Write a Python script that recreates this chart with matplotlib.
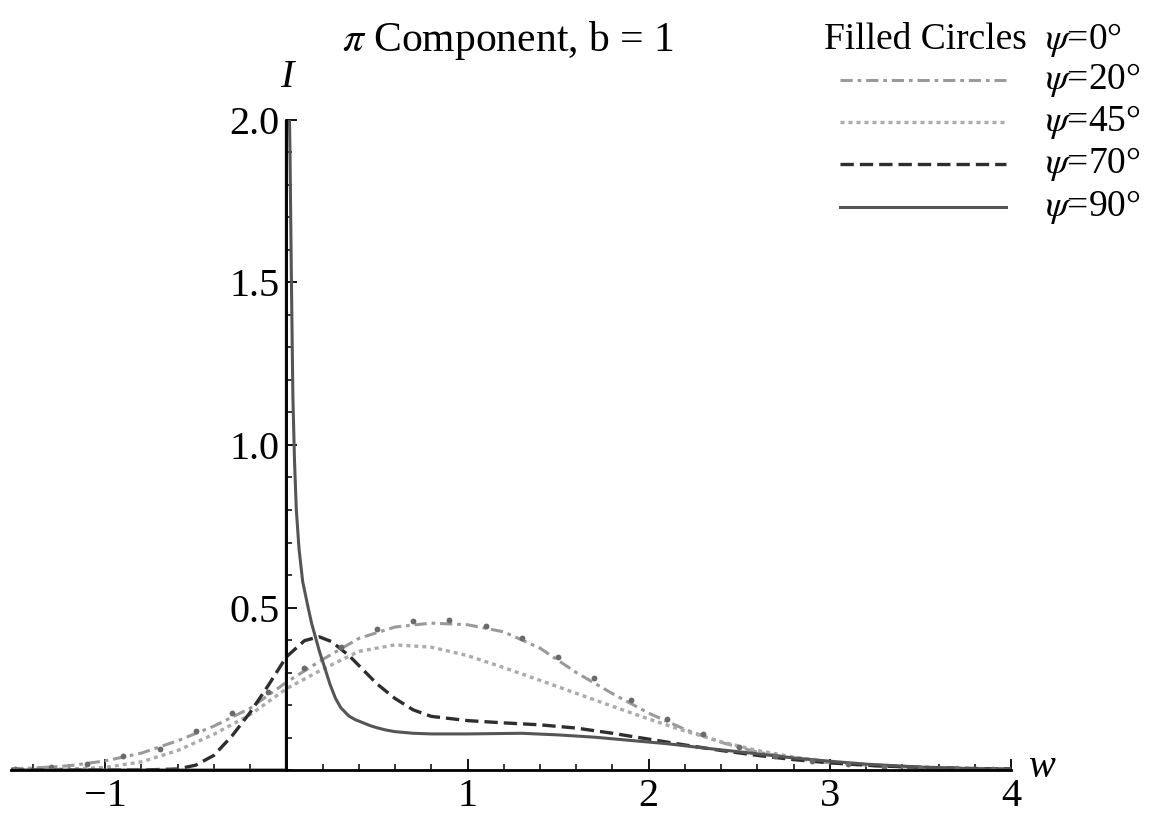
import matplotlib.pyplot as plt
from matplotlib.ticker import MultipleLocator, FixedLocator
from matplotlib.lines import Line2D

plt.rcParams['font.family'] = ['Liberation Serif', 'DejaVu Serif']
plt.rcParams['mathtext.fontset'] = 'stix'

# psi = 0 deg, filled circles
w0 = [-1.5, -1.3, -1.1, -0.9, -0.7, -0.5, -0.3, -0.1, 0.1, 0.3, 0.5, 0.7, 0.9, 1.1,
      1.3, 1.5, 1.7, 1.9, 2.1, 2.3, 2.5, 2.7, 2.9, 3.1, 3.3, 3.5, 3.7, 3.9]
I0 = [0.004, 0.008, 0.02, 0.043, 0.066, 0.121, 0.176, 0.24, 0.313, 0.379, 0.434, 0.457,
      0.462, 0.443, 0.405, 0.348, 0.283, 0.216, 0.156, 0.111, 0.07, 0.044, 0.028, 0.017,
      0.01, 0.006, 0.004, 0.002]

# psi = 20 deg
w20 = [-1.52, -1.4, -1.2, -1.0, -0.8, -0.6, -0.4, -0.2, 0.0, 0.2, 0.4, 0.6, 0.8, 1.0,
       1.2, 1.4, 1.6, 1.8, 2.0, 2.2, 2.4, 2.6, 2.8, 3.0, 3.25, 3.5, 3.75, 4.0]
I20 = [0.004, 0.006, 0.013, 0.028, 0.052, 0.09, 0.135, 0.19, 0.27, 0.34, 0.405, 0.44,
       0.452, 0.447, 0.425, 0.375, 0.30, 0.235, 0.175, 0.125, 0.085, 0.055, 0.036, 0.022,
       0.013, 0.007, 0.004, 0.003]

# psi = 45 deg
w45 = [-1.52, -1.2, -1.0, -0.8, -0.6, -0.4, -0.2, 0.0, 0.2, 0.4, 0.6, 0.8, 1.0, 1.2,
       1.4, 1.6, 1.8, 2.0, 2.2, 2.4, 2.6, 2.8, 3.0, 3.25, 3.5, 3.75, 4.0]
I45 = [0.001, 0.003, 0.008, 0.025, 0.06, 0.11, 0.17, 0.25, 0.31, 0.365, 0.385, 0.378,
       0.352, 0.315, 0.276, 0.236, 0.196, 0.157, 0.12, 0.087, 0.06, 0.04, 0.025, 0.015,
       0.009, 0.005, 0.003]

# psi = 70 deg
w70 = [-1.52, -0.8, -0.6, -0.5, -0.4, -0.3, -0.2, -0.1, 0.0, 0.1, 0.18, 0.25, 0.35, 0.5,
       0.6, 0.7, 0.8, 1.0, 1.2, 1.4, 1.6, 1.8, 2.0, 2.2, 2.4, 2.6, 2.8, 3.0, 3.25, 3.5,
       3.75, 4.0]
I70 = [0.0, 0.0, 0.003, 0.015, 0.045, 0.105, 0.177, 0.26, 0.348, 0.398, 0.41, 0.395,
       0.35, 0.265, 0.22, 0.185, 0.165, 0.152, 0.145, 0.139, 0.129, 0.113, 0.095, 0.077,
       0.06, 0.045, 0.032, 0.022, 0.013, 0.008, 0.005, 0.003]

# psi = 90 deg
w90 = [-1.52, 0.0, 0.0, 0.012, 0.02, 0.028, 0.036, 0.045, 0.055, 0.07, 0.09, 0.12, 0.14,
       0.16, 0.185, 0.21, 0.24, 0.27, 0.3, 0.345, 0.38, 0.42, 0.46, 0.5, 0.55, 0.6, 0.7,
       0.8, 1.0, 1.3, 1.5, 1.7, 1.9, 2.1, 2.3, 2.5, 2.8, 3.0, 3.2, 3.5, 3.8, 4.0]
I90 = [0.0, 0.0, 2.6, 2.2, 1.9, 1.5, 1.15, 0.95, 0.8, 0.68, 0.58, 0.5, 0.45,
       0.41, 0.36, 0.318, 0.265, 0.222, 0.192, 0.166, 0.155, 0.146, 0.137, 0.13, 0.123,
       0.118, 0.113, 0.111, 0.111, 0.113, 0.108, 0.101, 0.091, 0.081, 0.068, 0.056,
       0.037, 0.027, 0.018, 0.009, 0.004, 0.003]

x_ticks = [-1, 1, 2, 3, 4]
x_tick_labels = ['\u22121', '1', '2', '3', '4']
y_ticks = [0.5, 1.0, 1.5, 2.0]
y_tick_labels = ['0.5', '1.0', '1.5', '2.0']
legend_labels = [r'$\psi$=20°', r'$\psi$=45°', r'$\psi$=70°', r'$\psi$=90°']

styles = [dict(color='#9a9a9a', lw=2.2, dashes=[4, 1.6, 1.2, 1.6]),
          dict(color='#ababab', lw=2.4, dashes=[1.2, 1.2]),
          dict(color='#2e2e2e', lw=2.4, dashes=[4, 1.8]),
          dict(color='#555555', lw=2.2)]

fig = plt.figure(figsize=(11.5, 8.13), dpi=100)
ax = fig.add_axes([11 / 1150, 43 / 813, 1000 / 1150, 650 / 813])
ax.set_xlim(-1.52, 4.0)
ax.set_ylim(0, 2.0)

for (wx, iy), st in zip([(w20, I20), (w45, I45), (w70, I70), (w90, I90)], styles):
    ax.plot(wx, iy, solid_joinstyle='round', **st)
ax.plot(w0, I0, 'o', color='#6a6a6a', ms=4.2, mec='none')

for s in ['top', 'right']:
    ax.spines[s].set_visible(False)
ax.spines['left'].set_position(('data', 0))
ax.spines['bottom'].set_position(('data', 0))
ax.spines['left'].set_linewidth(2.0)
ax.spines['bottom'].set_linewidth(2.0)

ax.xaxis.set_major_locator(FixedLocator(x_ticks))
ax.xaxis.set_minor_locator(MultipleLocator(0.2))
ax.set_xticklabels(x_tick_labels)
ax.set_yticks(y_ticks)
ax.set_yticklabels(y_tick_labels)
ax.yaxis.set_minor_locator(MultipleLocator(0.1))
ax.tick_params(which='major', direction='in', length=8, width=1.3, labelsize=29)
ax.tick_params(which='minor', direction='in', length=4.5, width=1.1)
ax.tick_params(axis='x', pad=6)
ax.tick_params(axis='y', pad=5)

ax.annotate('I', xy=(0, 2.0), xytext=(0, 17), textcoords='offset points',
            style='italic', fontsize=29, ha='center', va='bottom', annotation_clip=False)
ax.annotate('w', xy=(4.0, 0.0), xytext=(12, 2), textcoords='offset points',
            style='italic', fontsize=29, ha='left', va='center', annotation_clip=False)

fig.text(508 / 1150, 1 - 40 / 813, r'$\pi$ Component, b = 1', fontsize=30,
         ha='center', va='center')

# legend
fig.text(1027 / 1150, 1 - 40 / 813, 'Filled Circles', fontsize=27, ha='right', va='center')
fig.text(1045 / 1150, 1 - 40 / 813, r'$\psi$=0°', fontsize=27, ha='left', va='center')
rows = [80, 122, 164, 207]
for lab, st, yp in zip(legend_labels, styles, rows):
    yf = 1 - yp / 813
    fig.add_artist(Line2D([840 / 1150, 1006 / 1150], [yf, yf], transform=fig.transFigure, **st))
    fig.text(1045 / 1150, yf, lab, fontsize=27, ha='left', va='center')

fig.savefig('out.png', dpi=100)
